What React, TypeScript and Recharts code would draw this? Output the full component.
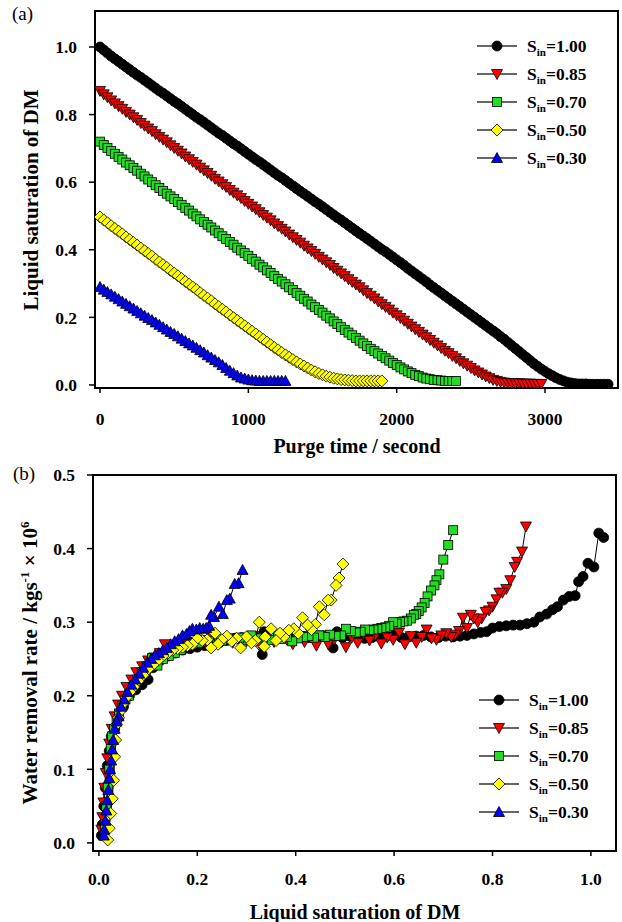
import React from "react"
import { ScatterChart, Scatter, XAxis, YAxis, ReferenceArea, Legend } from "recharts"

const FONT = '"Liberation Serif", "Times New Roman", serif'

// ---- panel (a): liquid saturation vs purge time (s) ----
const purgeTime = [
  0, 25, 50, 75, 100, 125, 150, 175, 200, 225, 250, 275, 300, 325, 350, 375, 400, 425, 450, 475,
  500, 525, 550, 575, 600, 625, 650, 675, 700, 725, 750, 775, 800, 825, 850, 875, 900, 925, 950, 975,
  1000, 1025, 1050, 1075, 1100, 1125, 1150, 1175, 1200, 1225, 1250, 1275, 1300, 1325, 1350, 1375, 1400, 1425, 1450, 1475,
  1500, 1525, 1550, 1575, 1600, 1625, 1650, 1675, 1700, 1725, 1750, 1775, 1800, 1825, 1850, 1875, 1900, 1925, 1950, 1975,
  2000, 2025, 2050, 2075, 2100, 2125, 2150, 2175, 2200, 2225, 2250, 2275, 2300, 2325, 2350, 2375, 2400, 2425, 2450, 2475,
  2500, 2525, 2550, 2575, 2600, 2625, 2650, 2675, 2700, 2725, 2750, 2775, 2800, 2825, 2850, 2875, 2900, 2925, 2950, 2975,
  3000, 3025, 3050, 3075, 3100, 3125, 3150, 3175, 3200, 3225, 3250, 3275, 3300, 3325, 3350, 3375, 3400, 3425,
]
const satA100 = [
  1.0, 0.991, 0.982, 0.973, 0.965, 0.957, 0.949, 0.941, 0.933, 0.925, 0.917, 0.91, 0.902, 0.894, 0.886, 0.878, 0.87, 0.863, 0.855, 0.847,
  0.839, 0.832, 0.824, 0.816, 0.808, 0.8, 0.792, 0.785, 0.777, 0.769, 0.761, 0.753, 0.745, 0.738, 0.73, 0.722, 0.714, 0.707, 0.699, 0.691,
  0.683, 0.675, 0.667, 0.66, 0.652, 0.644, 0.636, 0.628, 0.62, 0.613, 0.605, 0.597, 0.589, 0.581, 0.573, 0.566, 0.558, 0.55, 0.542, 0.535,
  0.527, 0.519, 0.511, 0.503, 0.495, 0.488, 0.48, 0.472, 0.464, 0.456, 0.448, 0.441, 0.433, 0.425, 0.417, 0.409, 0.401, 0.394, 0.386, 0.378,
  0.37, 0.362, 0.354, 0.345, 0.337, 0.329, 0.321, 0.313, 0.305, 0.296, 0.288, 0.28, 0.272, 0.264, 0.256, 0.248, 0.24, 0.232, 0.224, 0.216,
  0.208, 0.2, 0.192, 0.184, 0.176, 0.168, 0.16, 0.152, 0.143, 0.135, 0.126, 0.117, 0.108, 0.099, 0.09, 0.081, 0.072, 0.063, 0.055, 0.047,
  0.04, 0.033, 0.027, 0.021, 0.016, 0.012, 0.008, 0.006, 0.004, 0.003, 0.003, 0.003, 0.002, 0.002, 0.002, 0.002, 0.002, 0.002,
]
const satA085 = [
  0.87, 0.86, 0.851, 0.842, 0.833, 0.825, 0.817, 0.808, 0.8, 0.792, 0.784, 0.775, 0.767, 0.759, 0.751, 0.742, 0.734, 0.726, 0.718, 0.709,
  0.701, 0.693, 0.685, 0.676, 0.668, 0.66, 0.652, 0.643, 0.635, 0.627, 0.619, 0.61, 0.602, 0.594, 0.586, 0.577, 0.569, 0.561, 0.553, 0.544,
  0.536, 0.528, 0.52, 0.511, 0.503, 0.495, 0.487, 0.478, 0.47, 0.462, 0.454, 0.445, 0.437, 0.429, 0.421, 0.412, 0.404, 0.396, 0.388, 0.379,
  0.371, 0.363, 0.355, 0.346, 0.338, 0.33, 0.322, 0.313, 0.305, 0.297, 0.289, 0.28, 0.272, 0.264, 0.256, 0.247, 0.239, 0.231, 0.223, 0.214,
  0.206, 0.198, 0.19, 0.181, 0.173, 0.165, 0.157, 0.149, 0.141, 0.133, 0.125, 0.117, 0.109, 0.101, 0.094, 0.086, 0.079, 0.071, 0.064, 0.057,
  0.05, 0.043, 0.037, 0.031, 0.025, 0.02, 0.015, 0.012, 0.009, 0.007, 0.006, 0.005, 0.005, 0.005, 0.004, 0.004, 0.004, 0.003, 0.003, 0.003,
]
const satA070 = [
  0.72, 0.71, 0.701, 0.692, 0.684, 0.675, 0.667, 0.658, 0.65, 0.642, 0.634, 0.625, 0.617, 0.608, 0.6, 0.591, 0.583, 0.574, 0.566, 0.558,
  0.55, 0.541, 0.533, 0.524, 0.516, 0.507, 0.499, 0.49, 0.482, 0.474, 0.466, 0.457, 0.449, 0.44, 0.432, 0.423, 0.415, 0.406, 0.398, 0.39,
  0.382, 0.373, 0.365, 0.356, 0.348, 0.339, 0.331, 0.322, 0.314, 0.306, 0.298, 0.289, 0.281, 0.272, 0.264, 0.255, 0.247, 0.238, 0.23, 0.222,
  0.214, 0.205, 0.197, 0.188, 0.18, 0.171, 0.163, 0.155, 0.147, 0.139, 0.131, 0.123, 0.115, 0.107, 0.1, 0.093, 0.086, 0.079, 0.072, 0.065,
  0.059, 0.052, 0.046, 0.04, 0.035, 0.03, 0.026, 0.022, 0.019, 0.017, 0.015, 0.014, 0.013, 0.012, 0.012, 0.012, 0.012,
]
const satA050 = [
  0.497, 0.488, 0.48, 0.471, 0.463, 0.455, 0.447, 0.438, 0.43, 0.422, 0.414, 0.405, 0.397, 0.389, 0.381, 0.372, 0.364, 0.356, 0.348, 0.339,
  0.331, 0.323, 0.315, 0.306, 0.298, 0.29, 0.282, 0.273, 0.265, 0.257, 0.249, 0.24, 0.232, 0.224, 0.216, 0.207, 0.199, 0.191, 0.183, 0.175,
  0.167, 0.159, 0.151, 0.143, 0.135, 0.127, 0.119, 0.111, 0.104, 0.096, 0.089, 0.082, 0.075, 0.068, 0.062, 0.056, 0.05, 0.044, 0.039, 0.034,
  0.03, 0.026, 0.023, 0.02, 0.018, 0.016, 0.015, 0.014, 0.013, 0.012, 0.012, 0.012, 0.012, 0.012, 0.012, 0.012, 0.012,
]
const satA030 = [
  0.29, 0.282, 0.275, 0.268, 0.261, 0.254, 0.247, 0.24, 0.233, 0.226, 0.219, 0.212, 0.205, 0.198, 0.192, 0.185, 0.178, 0.171, 0.164, 0.157,
  0.151, 0.144, 0.137, 0.13, 0.123, 0.117, 0.11, 0.103, 0.096, 0.088, 0.081, 0.074, 0.067, 0.059, 0.05, 0.042, 0.035, 0.028, 0.022, 0.019,
  0.016, 0.014, 0.013, 0.012, 0.012, 0.012, 0.012, 0.012, 0.012, 0.012, 0.012,
]

// ---- panel (b): water removal rate vs liquid saturation ----
const satB100 = [
  1.026, 1.016, 1.006, 0.994, 0.984, 0.975, 0.968, 0.956, 0.944, 0.932, 0.922, 0.91, 0.896, 0.884, 0.87, 0.856, 0.842, 0.828, 0.814, 0.8,
  0.788, 0.776, 0.762, 0.748, 0.734, 0.72, 0.705, 0.69, 0.675, 0.66, 0.645, 0.63, 0.615, 0.6, 0.585, 0.57, 0.555, 0.54, 0.525, 0.51,
  0.495, 0.484, 0.476, 0.455, 0.44, 0.425, 0.41, 0.395, 0.38, 0.365, 0.35, 0.336, 0.332, 0.305, 0.29, 0.275, 0.26, 0.245, 0.23, 0.215,
  0.2, 0.185, 0.17, 0.155, 0.14, 0.125, 0.11, 0.1, 0.088, 0.075, 0.062, 0.05, 0.04, 0.032, 0.025, 0.021, 0.017, 0.013, 0.01, 0.007, 0.005,
]
const rateB100 = [
  0.415, 0.421, 0.375, 0.38, 0.362, 0.355, 0.336, 0.335, 0.33, 0.321, 0.317, 0.311, 0.307, 0.3, 0.298, 0.296, 0.296, 0.295, 0.294, 0.292,
  0.287, 0.286, 0.284, 0.282, 0.281, 0.28, 0.281, 0.279, 0.28, 0.282, 0.281, 0.28, 0.279, 0.282, 0.281, 0.28, 0.279, 0.278, 0.28, 0.281,
  0.279, 0.287, 0.265, 0.281, 0.28, 0.279, 0.281, 0.28, 0.279, 0.281, 0.278, 0.287, 0.256, 0.28, 0.279, 0.278, 0.275, 0.272, 0.27, 0.268,
  0.266, 0.264, 0.262, 0.258, 0.254, 0.248, 0.238, 0.222, 0.215, 0.208, 0.2, 0.185, 0.17, 0.155, 0.145, 0.125, 0.105, 0.075, 0.05, 0.025, 0.01,
]
const satB085 = [
  0.868, 0.86, 0.85, 0.845, 0.836, 0.828, 0.82, 0.814, 0.808, 0.8, 0.793, 0.786, 0.778, 0.77, 0.762, 0.756, 0.748, 0.74, 0.732, 0.724,
  0.716, 0.706, 0.696, 0.686, 0.676, 0.666, 0.656, 0.645, 0.634, 0.622, 0.61, 0.598, 0.586, 0.574, 0.562, 0.55, 0.538, 0.526, 0.514, 0.502,
  0.49, 0.478, 0.466, 0.454, 0.442, 0.43, 0.418, 0.406, 0.394, 0.382, 0.37, 0.356, 0.342, 0.328, 0.314, 0.3, 0.286, 0.272, 0.258, 0.244,
  0.23, 0.216, 0.202, 0.188, 0.174, 0.16, 0.146, 0.134, 0.124, 0.112, 0.1, 0.088, 0.076, 0.066, 0.056, 0.047, 0.039, 0.032, 0.026, 0.021,
  0.017, 0.014, 0.011, 0.009, 0.007, 0.005,
]
const rateB085 = [
  0.43, 0.396, 0.382, 0.375, 0.357, 0.345, 0.34, 0.34, 0.331, 0.321, 0.316, 0.314, 0.305, 0.3, 0.305, 0.31, 0.292, 0.306, 0.288, 0.283,
  0.28, 0.285, 0.282, 0.276, 0.278, 0.29, 0.28, 0.272, 0.281, 0.27, 0.286, 0.276, 0.279, 0.271, 0.282, 0.275, 0.284, 0.272, 0.279, 0.266,
  0.281, 0.276, 0.27, 0.282, 0.268, 0.279, 0.273, 0.281, 0.27, 0.276, 0.28, 0.273, 0.278, 0.269, 0.281, 0.274, 0.278, 0.272, 0.276, 0.275,
  0.279, 0.272, 0.276, 0.27, 0.273, 0.266, 0.262, 0.27, 0.258, 0.252, 0.248, 0.24, 0.232, 0.222, 0.212, 0.2, 0.188, 0.172, 0.155, 0.135,
  0.115, 0.095, 0.075, 0.055, 0.035, 0.018,
]
const satB070 = [
  0.72, 0.71, 0.7, 0.692, 0.686, 0.682, 0.675, 0.668, 0.662, 0.656, 0.65, 0.645, 0.64, 0.634, 0.626, 0.619, 0.612, 0.605, 0.598, 0.59,
  0.582, 0.574, 0.566, 0.558, 0.55, 0.541, 0.532, 0.522, 0.512, 0.502, 0.492, 0.481, 0.47, 0.459, 0.448, 0.437, 0.426, 0.415, 0.404, 0.393,
  0.382, 0.37, 0.358, 0.346, 0.334, 0.322, 0.31, 0.298, 0.286, 0.274, 0.262, 0.25, 0.238, 0.226, 0.214, 0.202, 0.19, 0.178, 0.166, 0.154,
  0.142, 0.13, 0.119, 0.108, 0.097, 0.087, 0.078, 0.069, 0.061, 0.054, 0.047, 0.041, 0.036, 0.031, 0.027, 0.024, 0.021, 0.018, 0.015, 0.012,
]
const rateB070 = [
  0.425, 0.405, 0.385, 0.365, 0.357, 0.35, 0.343, 0.335, 0.326, 0.32, 0.315, 0.311, 0.31, 0.305, 0.302, 0.301, 0.3, 0.298, 0.3, 0.295,
  0.293, 0.292, 0.291, 0.29, 0.289, 0.29, 0.287, 0.286, 0.288, 0.291, 0.282, 0.281, 0.283, 0.28, 0.282, 0.279, 0.281, 0.28, 0.278, 0.274,
  0.28, 0.277, 0.281, 0.276, 0.279, 0.278, 0.282, 0.276, 0.279, 0.277, 0.278, 0.275, 0.277, 0.274, 0.276, 0.272, 0.27, 0.268, 0.262, 0.258,
  0.254, 0.25, 0.241, 0.251, 0.24, 0.232, 0.222, 0.212, 0.2, 0.195, 0.186, 0.176, 0.165, 0.155, 0.145, 0.128, 0.1, 0.075, 0.05, 0.025,
]
const satB050 = [
  0.496, 0.488, 0.482, 0.472, 0.466, 0.458, 0.448, 0.44, 0.432, 0.424, 0.414, 0.405, 0.396, 0.386, 0.376, 0.368, 0.36, 0.35, 0.338, 0.336,
  0.326, 0.318, 0.31, 0.3, 0.288, 0.28, 0.27, 0.26, 0.25, 0.242, 0.236, 0.228, 0.22, 0.21, 0.2, 0.19, 0.18, 0.17, 0.16, 0.15,
  0.14, 0.13, 0.12, 0.11, 0.1, 0.09, 0.08, 0.071, 0.063, 0.056, 0.05, 0.045, 0.04, 0.036, 0.034, 0.032, 0.03, 0.027, 0.024, 0.021, 0.018,
]
const rateB050 = [
  0.379, 0.36, 0.35, 0.33, 0.33, 0.31, 0.321, 0.297, 0.29, 0.296, 0.306, 0.285, 0.291, 0.289, 0.28, 0.285, 0.275, 0.291, 0.28, 0.267,
  0.3, 0.275, 0.272, 0.28, 0.265, 0.278, 0.274, 0.281, 0.276, 0.27, 0.285, 0.265, 0.276, 0.275, 0.278, 0.27, 0.268, 0.266, 0.264, 0.262,
  0.258, 0.254, 0.248, 0.242, 0.236, 0.228, 0.22, 0.212, 0.205, 0.198, 0.19, 0.18, 0.17, 0.161, 0.14, 0.117, 0.085, 0.06, 0.04, 0.02, 0.004,
]
const satB030 = [
  0.292, 0.284, 0.276, 0.266, 0.26, 0.252, 0.244, 0.234, 0.228, 0.224, 0.218, 0.212, 0.205, 0.198, 0.19, 0.184, 0.178, 0.17, 0.162, 0.154,
  0.146, 0.138, 0.13, 0.122, 0.114, 0.106, 0.098, 0.09, 0.082, 0.074, 0.066, 0.058, 0.051, 0.045, 0.04, 0.036, 0.032, 0.029, 0.027, 0.025,
  0.023, 0.021, 0.019, 0.017, 0.015, 0.013, 0.011, 0.01,
]
const rateB030 = [
  0.371, 0.353, 0.352, 0.332, 0.33, 0.311, 0.321, 0.307, 0.31, 0.295, 0.292, 0.291, 0.292, 0.29, 0.291, 0.288, 0.284, 0.282, 0.277, 0.274,
  0.27, 0.265, 0.262, 0.258, 0.255, 0.25, 0.245, 0.238, 0.23, 0.222, 0.215, 0.205, 0.195, 0.185, 0.172, 0.165, 0.155, 0.14, 0.127, 0.112,
  0.1, 0.088, 0.072, 0.058, 0.044, 0.03, 0.018, 0.01,
]

const legendLabels = ["=1.00", "=0.85", "=0.70", "=0.50", "=0.30"]
const names = ["Sin=1.00", "Sin=0.85", "Sin=0.70", "Sin=0.50", "Sin=0.30"]
const timeTicks = [0, 1000, 2000, 3000]
const satTicksA = [0, 0.2, 0.4, 0.6, 0.8, 1.0]
const satTicksB = [0, 0.2, 0.4, 0.6, 0.8, 1.0]
const rateTicks = [0, 0.1, 0.2, 0.3, 0.4, 0.5]

type Kind = "circle" | "down" | "square" | "diamond" | "up"
const kinds: Kind[] = ["circle", "down", "square", "diamond", "up"]

function Marker({ kind, cx, cy }: { kind: Kind; cx: number; cy: number }) {
  if (cx == null || cy == null) return null
  const sw = 0.8
  switch (kind) {
    case "circle":
      return <circle cx={cx} cy={cy} r={5} fill="#000" stroke="#000" strokeWidth={sw} />
    case "down":
      return <path d={`M${cx - 5.5},${cy - 4.5}L${cx + 5.5},${cy - 4.5}L${cx},${cy + 5.5}Z`} fill="#ff0000" stroke="#000" strokeWidth={sw} />
    case "square":
      return <rect x={cx - 4.5} y={cy - 4.5} width={9} height={9} fill="#22dd22" stroke="#000" strokeWidth={sw} />
    case "diamond":
      return <path d={`M${cx},${cy - 6}L${cx + 6},${cy}L${cx},${cy + 6}L${cx - 6},${cy}Z`} fill="#ffff00" stroke="#000" strokeWidth={sw} />
    default:
      return <path d={`M${cx - 5.5},${cy + 4.5}L${cx + 5.5},${cy + 4.5}L${cx},${cy - 5.5}Z`} fill="#0000ff" stroke="#000" strokeWidth={sw} />
  }
}

function SeriesLegend() {
  return (
    <svg width={140} height={140} style={{ overflow: "visible", display: "block" }}>
      {kinds.map((k, i) => (
        <g key={k} transform={`translate(0, ${i * 28})`}>
          <line x1={0} x2={40} y1={10} y2={10} stroke="#333" strokeWidth={1.3} />
          <Marker kind={k} cx={20} cy={10} />
          <text x={50} y={16} fontFamily={FONT} fontWeight="bold" fontSize={17.5} fill="#000">
            S<tspan fontSize={11} dy={4}>in</tspan>
            <tspan dy={-4}>{legendLabels[i]}</tspan>
          </text>
        </g>
      ))}
    </svg>
  )
}

const tickStyle = { fill: "#000", fontSize: 17.5, fontWeight: "bold", fontFamily: FONT }
const titleStyle: React.CSSProperties = {
  position: "absolute",
  fontFamily: FONT,
  fontWeight: "bold",
  fontSize: 20,
  whiteSpace: "nowrap",
  color: "#000",
}

const pairs = (xs: number[], ys: number[]) => ys.map((y, i) => ({ x: xs[i], y }))

const seriesA = [satA100, satA085, satA070, satA050, satA030]
const seriesB = [
  pairs(satB100, rateB100),
  pairs(satB085, rateB085),
  pairs(satB070, rateB070),
  pairs(satB050, rateB050),
  pairs(satB030, rateB030),
]

export default function App() {
  const xA: [number, number] = [-34, 3492]
  const yA: [number, number] = [-0.009, 1.1065]
  const xB: [number, number] = [-0.012, 1.051]
  const yB: [number, number] = [-0.011, 0.5]

  return (
    <div style={{ position: "absolute", left: 0, top: 0, width: 622, height: 922, background: "#fff" }}>
      {/* panel (a) */}
      <div style={{ position: "absolute", left: 0, top: 0 }}>
        <ScatterChart width={622} height={460} margin={{ top: 11, right: 4, left: 35, bottom: 12 }}>
          <XAxis
            type="number"
            dataKey="x"
            domain={xA}
            ticks={timeTicks}
            allowDataOverflow
            height={60}
            axisLine={false}
            tickSize={5}
            tickMargin={20}
            tickLine={{ stroke: "#000", strokeWidth: 1.5 }}
            tick={tickStyle}
          />
          <YAxis
            type="number"
            dataKey="y"
            domain={yA}
            ticks={satTicksA}
            allowDataOverflow
            width={60}
            axisLine={false}
            tickSize={6}
            tickMargin={12}
            tickLine={{ stroke: "#000", strokeWidth: 1.5 }}
            tick={tickStyle}
            tickFormatter={(v: number) => v.toFixed(1)}
          />
          <ReferenceArea x1={xA[0]} x2={xA[1]} y1={yA[0]} y2={yA[1]} fill="none" stroke="#000" strokeWidth={2} ifOverflow="visible" />
          {seriesA.map((vals, i) => (
            <Scatter
              key={names[i]}
              name={names[i]}
              data={pairs(purgeTime, vals)}
              line={{ stroke: "#000", strokeWidth: 1 }}
              shape={(p: any) => <Marker kind={kinds[i]} cx={p.cx} cy={p.cy} />}
              isAnimationActive={false}
            />
          ))}
          <Legend
            layout="vertical"
            align="center"
            verticalAlign="middle"
            content={() => <SeriesLegend />}
            wrapperStyle={{ position: "absolute", left: 477, top: 36, width: 140 }}
          />
        </ScatterChart>
        <div style={{ position: "absolute", left: 12, top: 3, fontFamily: FONT, fontSize: 19 }}>(a)</div>
        <div style={{ ...titleStyle, fontSize: 21, left: 31, top: 200, transform: "translate(-50%, -50%) rotate(-90deg)" }}>
          Liquid saturation of DM
        </div>
        <div style={{ ...titleStyle, left: 357, top: 446, transform: "translate(-50%, -50%)" }}>Purge time / second</div>
      </div>

      {/* panel (b) */}
      <div style={{ position: "absolute", left: 0, top: 460 }}>
        <ScatterChart width={622} height={462} margin={{ top: 15, right: 6, left: 33, bottom: 11 }}>
          <XAxis
            type="number"
            dataKey="x"
            domain={xB}
            ticks={satTicksB}
            allowDataOverflow
            height={60}
            axisLine={false}
            tickSize={5}
            tickMargin={17}
            tickLine={{ stroke: "#000", strokeWidth: 1.5 }}
            tick={tickStyle}
            tickFormatter={(v: number) => v.toFixed(1)}
          />
          <YAxis
            type="number"
            dataKey="y"
            domain={yB}
            ticks={rateTicks}
            allowDataOverflow
            width={60}
            axisLine={false}
            tickSize={6}
            tickMargin={12}
            tickLine={{ stroke: "#000", strokeWidth: 1.5 }}
            tick={tickStyle}
            tickFormatter={(v: number) => v.toFixed(1)}
          />
          <ReferenceArea x1={xB[0]} x2={xB[1]} y1={yB[0]} y2={yB[1]} fill="none" stroke="#000" strokeWidth={2} ifOverflow="visible" />
          {seriesB.map((pts, i) => (
            <Scatter
              key={names[i]}
              name={names[i]}
              data={pts}
              line={{ stroke: "#000", strokeWidth: 1 }}
              shape={(p: any) => <Marker kind={kinds[i]} cx={p.cx} cy={p.cy} />}
              isAnimationActive={false}
            />
          ))}
          <Legend
            layout="vertical"
            align="center"
            verticalAlign="middle"
            content={() => <SeriesLegend />}
            wrapperStyle={{ position: "absolute", left: 479, top: 230, width: 140 }}
          />
        </ScatterChart>
        <div style={{ position: "absolute", left: 13, top: 3, fontFamily: FONT, fontSize: 19 }}>(b)</div>
        <div style={{ ...titleStyle, fontSize: 21, left: 30, top: 203, transform: "translate(-50%, -50%) rotate(-90deg)" }}>
          Water removal rate / kgs<sup style={{ fontSize: 13 }}>-1</sup> × 10<sup style={{ fontSize: 13 }}>6</sup>
        </div>
        <div style={{ ...titleStyle, left: 355, top: 452, transform: "translate(-50%, -50%)" }}>Liquid saturation of DM</div>
      </div>
    </div>
  )
}
